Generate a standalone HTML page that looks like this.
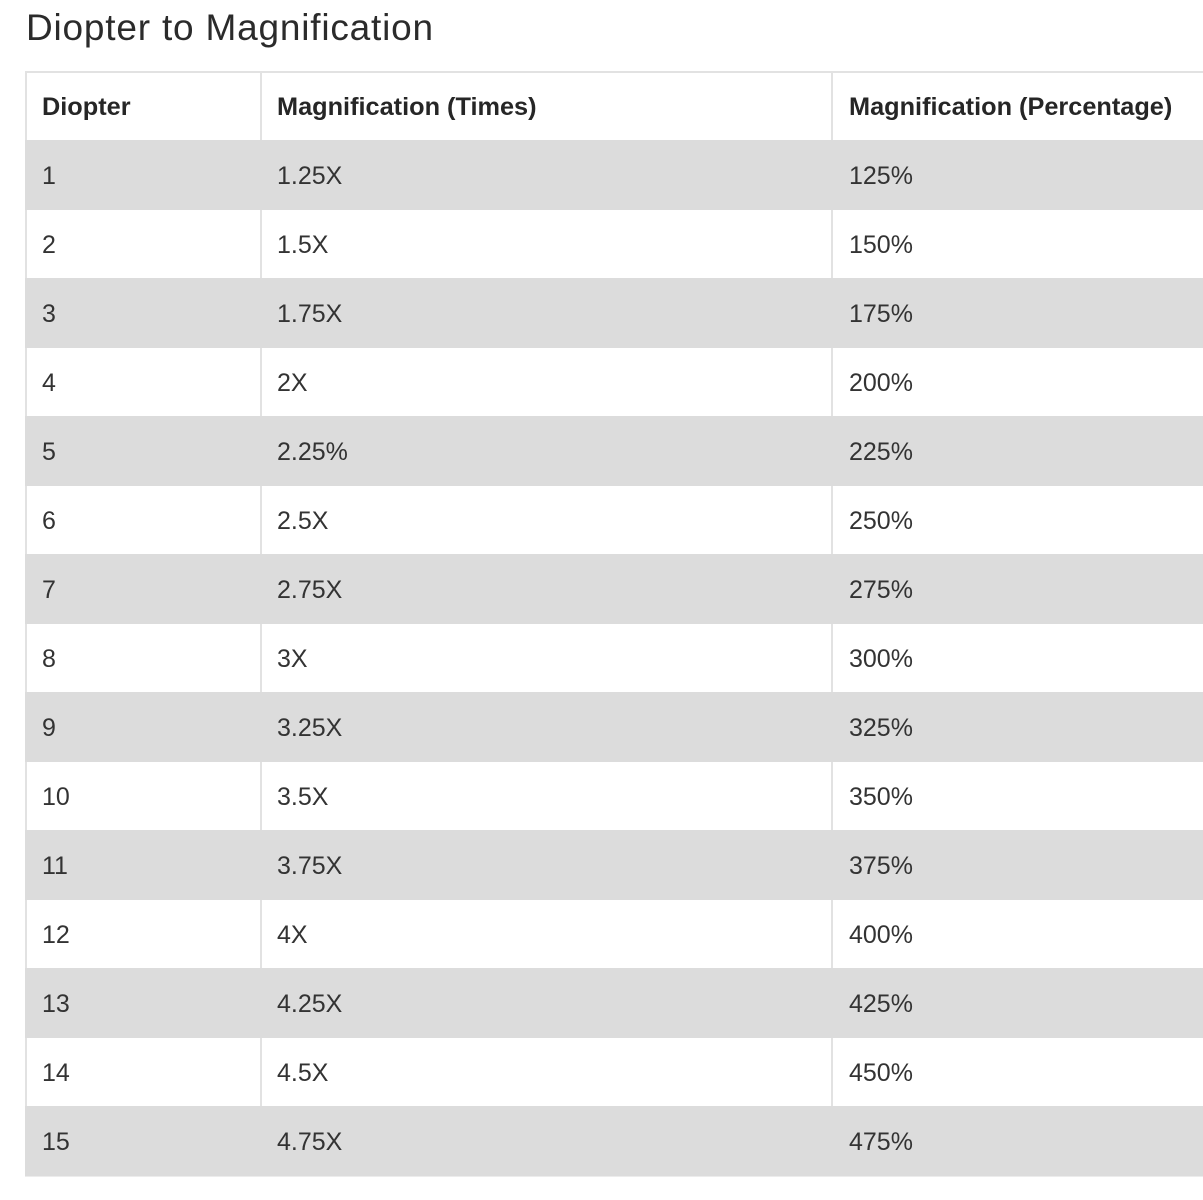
<!DOCTYPE html>
<html>
<head>
<meta charset="utf-8">
<style>
html,body{margin:0;padding:0;background:#fff;}
body{width:1203px;height:1200px;position:relative;overflow:hidden;font-family:"Liberation Sans",Arial,sans-serif;color:#333;}
.title{position:absolute;left:26px;top:6px;font-size:37px;letter-spacing:0.8px;color:#2b2b2b;line-height:44px;white-space:nowrap;}
.hl{position:absolute;background:#e2e2e2;}
.row{position:absolute;left:25px;width:1178px;}
.g{background:#dcdcdc;}
.c{position:absolute;font-size:25px;line-height:30px;white-space:nowrap;color:#333;}
.h{font-weight:bold;font-size:25.3px;color:#262626;}
</style>
</head>
<body>
<div class="title">Diopter to Magnification</div>

<div class="hl" style="left:25px;top:71px;width:1178px;height:2px;"></div>
<div class="hl" style="left:25px;top:71px;width:2px;height:1105px;"></div>
<div class="hl" style="left:260px;top:71px;width:2px;height:1105px;"></div>
<div class="hl" style="left:831px;top:71px;width:2px;height:1105px;"></div>
<div class="hl" style="left:25px;top:1176px;width:1178px;height:1px;background:#ececec;"></div>

<div class="row g" style="top:140px;height:70px;"></div>
<div class="row g" style="top:278px;height:70px;"></div>
<div class="row g" style="top:416px;height:70px;"></div>
<div class="row g" style="top:554px;height:70px;"></div>
<div class="row g" style="top:692px;height:70px;"></div>
<div class="row g" style="top:830px;height:70px;"></div>
<div class="row g" style="top:968px;height:70px;"></div>
<div class="row g" style="top:1106px;height:70px;"></div>

<div class="c h" style="left:42px;top:92px;">Diopter</div>
<div class="c h" style="left:277px;top:92px;">Magnification (Times)</div>
<div class="c h" style="left:849px;top:92px;">Magnification (Percentage)</div>

<div class="c" style="left:42px;top:161px;">1</div><div class="c" style="left:277px;top:161px;">1.25X</div><div class="c" style="left:849px;top:161px;">125%</div>
<div class="c" style="left:42px;top:230px;">2</div><div class="c" style="left:277px;top:230px;">1.5X</div><div class="c" style="left:849px;top:230px;">150%</div>
<div class="c" style="left:42px;top:299px;">3</div><div class="c" style="left:277px;top:299px;">1.75X</div><div class="c" style="left:849px;top:299px;">175%</div>
<div class="c" style="left:42px;top:368px;">4</div><div class="c" style="left:277px;top:368px;">2X</div><div class="c" style="left:849px;top:368px;">200%</div>
<div class="c" style="left:42px;top:437px;">5</div><div class="c" style="left:277px;top:437px;">2.25%</div><div class="c" style="left:849px;top:437px;">225%</div>
<div class="c" style="left:42px;top:506px;">6</div><div class="c" style="left:277px;top:506px;">2.5X</div><div class="c" style="left:849px;top:506px;">250%</div>
<div class="c" style="left:42px;top:575px;">7</div><div class="c" style="left:277px;top:575px;">2.75X</div><div class="c" style="left:849px;top:575px;">275%</div>
<div class="c" style="left:42px;top:644px;">8</div><div class="c" style="left:277px;top:644px;">3X</div><div class="c" style="left:849px;top:644px;">300%</div>
<div class="c" style="left:42px;top:713px;">9</div><div class="c" style="left:277px;top:713px;">3.25X</div><div class="c" style="left:849px;top:713px;">325%</div>
<div class="c" style="left:42px;top:782px;">10</div><div class="c" style="left:277px;top:782px;">3.5X</div><div class="c" style="left:849px;top:782px;">350%</div>
<div class="c" style="left:42px;top:851px;">11</div><div class="c" style="left:277px;top:851px;">3.75X</div><div class="c" style="left:849px;top:851px;">375%</div>
<div class="c" style="left:42px;top:920px;">12</div><div class="c" style="left:277px;top:920px;">4X</div><div class="c" style="left:849px;top:920px;">400%</div>
<div class="c" style="left:42px;top:989px;">13</div><div class="c" style="left:277px;top:989px;">4.25X</div><div class="c" style="left:849px;top:989px;">425%</div>
<div class="c" style="left:42px;top:1058px;">14</div><div class="c" style="left:277px;top:1058px;">4.5X</div><div class="c" style="left:849px;top:1058px;">450%</div>
<div class="c" style="left:42px;top:1127px;">15</div><div class="c" style="left:277px;top:1127px;">4.75X</div><div class="c" style="left:849px;top:1127px;">475%</div>
</body>
</html>
